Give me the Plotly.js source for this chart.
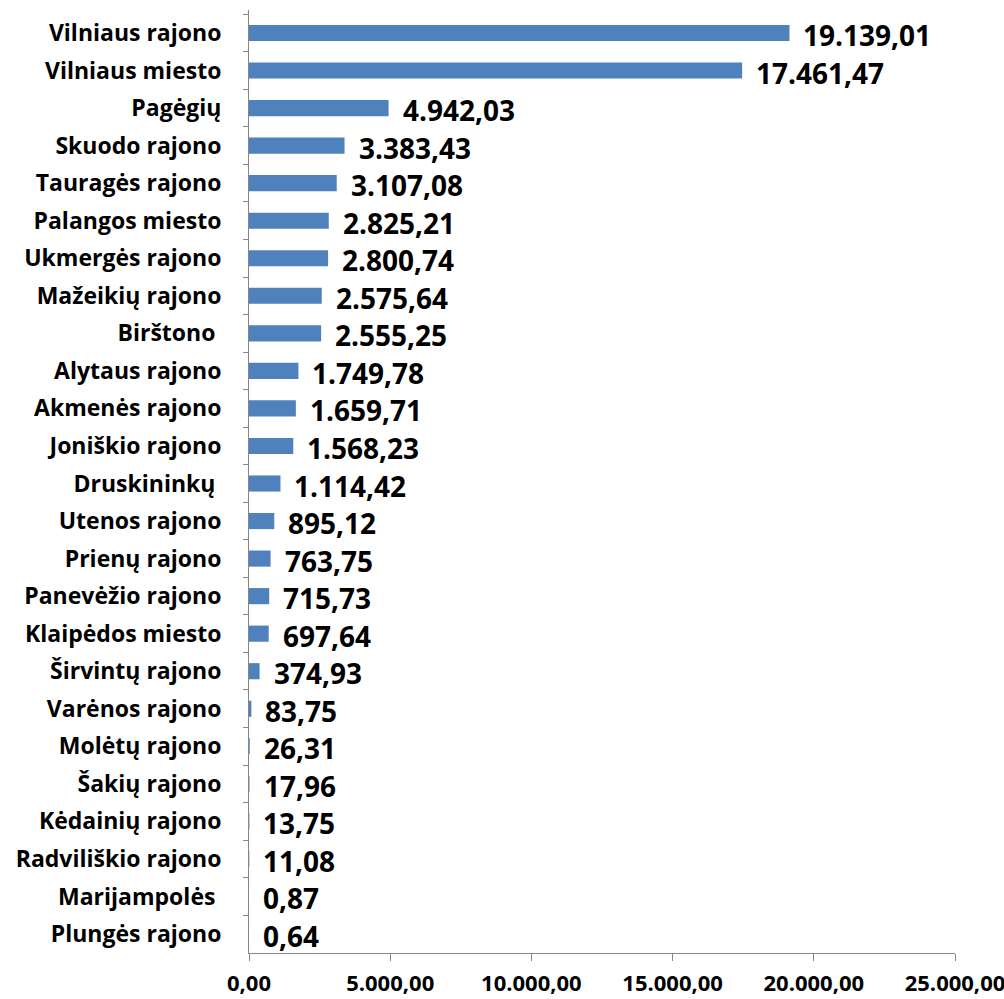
<!DOCTYPE html>
<html>
<head>
<meta charset="utf-8">
<script src="https://cdn.plot.ly/plotly-3.0.1.min.js"></script>
<style>html,body{margin:0;padding:0;background:#fff;}#chart{width:1004px;height:999px;}</style>
</head>
<body>
<div id="chart"></div>
<script>
const categories = ["Vilniaus rajono","Vilniaus miesto","Pagėgių","Skuodo rajono","Tauragės rajono","Palangos miesto","Ukmergės rajono","Mažeikių rajono","Birštono ","Alytaus rajono","Akmenės rajono","Joniškio rajono","Druskininkų ","Utenos rajono","Prienų rajono","Panevėžio rajono","Klaipėdos miesto","Širvintų rajono","Varėnos rajono","Molėtų rajono","Šakių rajono","Kėdainių rajono","Radviliškio rajono","Marijampolės ","Plungės rajono"];
const values = [19139.01,17461.47,4942.03,3383.43,3107.08,2825.21,2800.74,2575.64,2555.25,1749.78,1659.71,1568.23,1114.42,895.12,763.75,715.73,697.64,374.93,83.75,26.31,17.96,13.75,11.08,0.87,0.64];
const tickVals = [0,5000,10000,15000,20000,25000];

function fmt(v){
  const parts = v.toFixed(2).split('.');
  parts[0] = parts[0].replace(/\B(?=(\d{3})+(?!\d))/g, '.');
  return parts[0] + ',' + parts[1];
}

const FONT = '"Open Sans", Lato, sans-serif';

const trace = {
  type: 'bar',
  orientation: 'h',
  x: values,
  y: categories,
  width: 0.43,
  marker: {color: '#4F81BD'},
  hoverinfo: 'none'
};

const annotations = values.map((v,i)=>({
  x: v, y: categories[i], xref:'x', yref:'y',
  text: fmt(v), showarrow:false, xanchor:'left', yanchor:'middle',
  xshift: 12, yshift: -2,
  font:{family: FONT, size: 28, color:'#000', weight: 'bold'}
}));

const layout = {
  width: 1004, height: 999,
  margin: {l: 249, r: 49, t: 10, b: 46},
  paper_bgcolor: '#fff', plot_bgcolor: '#fff',
  showlegend: false,
  font: {family: FONT, color: '#000'},
  annotations: annotations,
  xaxis: {
    range: [0, 25000],
    automargin: false,
    tickvals: tickVals,
    ticktext: tickVals.map(v => fmt(v)),
    showgrid: false, zeroline: false,
    showline: true, linecolor: '#868686', linewidth: 1,
    ticks: 'outside', ticklen: 7, tickcolor: '#868686',
    ticklabelstandoff: 4,
    ticklabeloverflow: 'allow',
    tickfont: {family: FONT, size: 22, color: '#000', weight: 'bold'},
    fixedrange: true
  },
  yaxis: {
    type: 'category',
    automargin: false,
    autorange: 'reversed',
    categoryorder: 'array', categoryarray: categories,
    showgrid: false, zeroline: false,
    showline: true, linecolor: '#868686', linewidth: 1,
    ticks: 'outside', ticklen: 5, tickcolor: '#868686',
    tickson: 'boundaries',
    ticklabelstandoff: 22,
    tickfont: {family: FONT, size: 23, color: '#000', weight: 'bold'},
    fixedrange: true
  }
};

Plotly.newPlot('chart', [trace], layout, {displayModeBar: false, staticPlot: true});
</script>
</body>
</html>
